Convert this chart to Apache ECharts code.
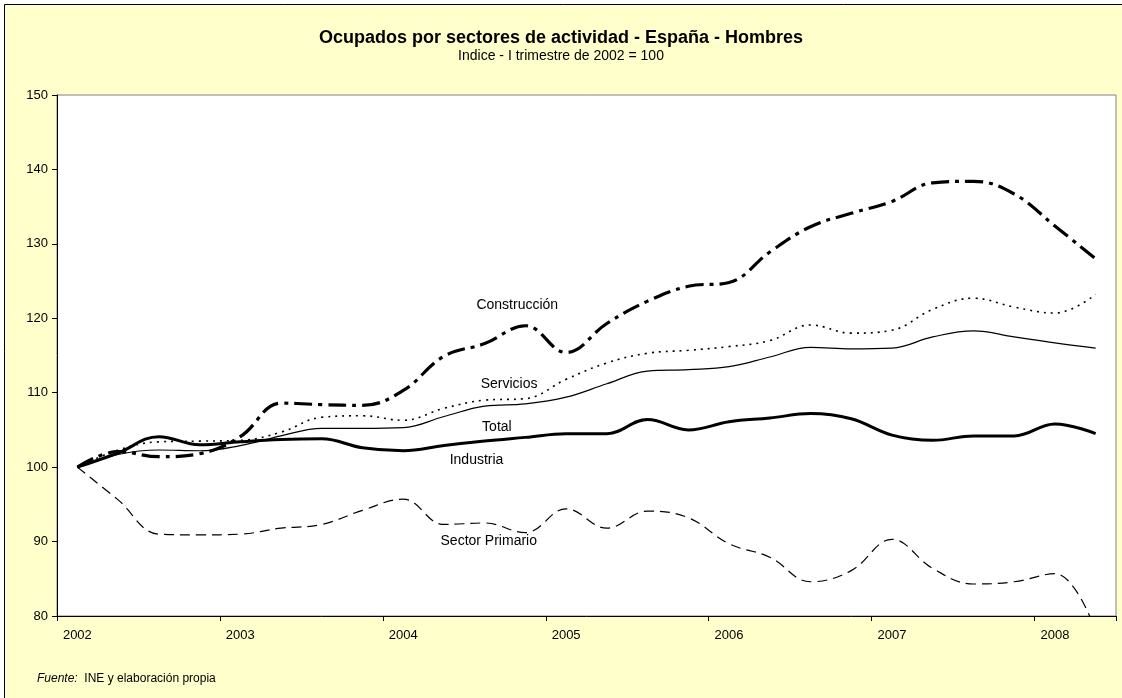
<!DOCTYPE html>
<html>
<head>
<meta charset="utf-8">
<script src="https://cdn.jsdelivr.net/npm/echarts@6/dist/echarts.min.js"></script>
<style>
  html, body { margin: 0; padding: 0; background: #fff; }
  #chart { width: 1122px; height: 698px; }
</style>
</head>
<body>
<div id="chart"></div>
<script>
// trimestres 2002-I .. 2008-II
const quarters = [
  '2002-I', '2002-II', '2002-III', '2002-IV',
  '2003-I', '2003-II', '2003-III', '2003-IV',
  '2004-I', '2004-II', '2004-III', '2004-IV',
  '2005-I', '2005-II', '2005-III', '2005-IV',
  '2006-I', '2006-II', '2006-III', '2006-IV',
  '2007-I', '2007-II', '2007-III', '2007-IV',
  '2008-I', '2008-II'
];

const construccion = [100, 102.1, 101.4, 101.8, 104.1, 108.6, 108.4, 108.3, 110.3, 114.9, 116.6, 119.0, 115.4,
  119.3, 122.3, 124.3, 124.8, 128.9, 132.3, 134.1, 135.7, 138.2, 138.4, 136.7, 132.4, 128.0];
const servicios = [100, 102.3, 103.4, 103.5, 103.6, 104.7, 106.7, 106.9, 106.3, 107.9, 109.0, 109.2, 111.8,
  114.0, 115.3, 115.7, 116.2, 117.0, 119.1, 118.0, 118.4, 121.2, 122.7, 121.5, 120.7, 123.2];
const total = [100, 101.7, 102.3, 102.2, 102.9, 104.2, 105.2, 105.2, 105.3, 106.8, 108.2, 108.5, 109.4,
  111.2, 112.9, 113.1, 113.5, 114.8, 116.1, 115.9, 116.0, 117.5, 118.3, 117.5, 116.7, 116.0];
const industria = [100, 101.9, 104.1, 103.0, 103.4, 103.7, 103.8, 102.6, 102.2, 102.9, 103.5, 104.0, 104.5,
  104.5, 106.4, 105.0, 106.1, 106.6, 107.2, 106.5, 104.3, 103.6, 104.2, 104.2, 105.8, 104.5];
const primario = [100, 95.6, 91.0, 90.9, 91.0, 91.8, 92.3, 94.2, 95.7, 92.3, 92.5, 91.2, 94.4,
  91.8, 94.1, 93.2, 89.7, 87.9, 84.6, 86.1, 90.3, 86.4, 84.3, 84.6, 85.7, 78.0];

const yTicks = { min: 80, max: 150, step: 10 };

// [texto, posicion en trimestres, valor]
const etiquetas = [
  ['Construcción', 10.8, 121.8],
  ['Servicios', 10.6, 111.1],
  ['Total', 10.3, 105.4],
  ['Industria', 9.8, 100.9],
  ['Sector Primario', 10.1, 90.0]
];

const FONT = '"Liberation Sans", Arial, sans-serif';

const chart = echarts.init(document.getElementById('chart'));

function serie(name, data, width, type) {
  return {
    name: name,
    type: 'line',
    data: data,
    smooth: 0.4,
    symbol: 'none',
    clip: true,
    lineStyle: { color: '#000', width: width, type: type },
    silent: true
  };
}

const fijos = [
  {
    type: 'rect', z: -10,
    shape: { x: 4.5, y: 4.5, width: 1130, height: 710 },
    style: { fill: '#ffffcc', stroke: '#000', lineWidth: 1 }
  },
  {
    type: 'text', left: 'center', top: 29,
    style: { text: 'Ocupados por sectores de actividad - España - Hombres', font: 'bold 18px ' + FONT, fill: '#000' }
  },
  {
    type: 'text', left: 'center', top: 49,
    style: { text: 'Indice - I trimestre de 2002 = 100', font: '14px ' + FONT, fill: '#000' }
  },
  {
    type: 'text', left: 37, top: 673,
    style: {
      text: '{i|Fuente:}  INE y elaboración propia',
      font: '12px ' + FONT, fill: '#000',
      rich: { i: { fontStyle: 'italic', fontSize: 12, fontFamily: FONT } }
    }
  }
];

chart.setOption({
  backgroundColor: 'transparent',
  animation: false,
  graphic: fijos,
  grid: {
    left: 57, right: 6, top: 95, bottom: 82,
    show: true, backgroundColor: '#fff', borderColor: '#808080', borderWidth: 1
  },
  xAxis: {
    type: 'category',
    data: quarters,
    boundaryGap: true,
    axisLine: { lineStyle: { color: '#000', width: 1 } },
    axisTick: { show: true, interval: 3, length: 5, lineStyle: { color: '#000' } },
    axisLabel: {
      interval: 3, color: '#000', fontSize: 13, fontFamily: FONT, margin: 13,
      formatter: v => v.slice(0, 4)
    },
    splitLine: { show: false }
  },
  yAxis: {
    type: 'value',
    min: yTicks.min, max: yTicks.max, interval: yTicks.step,
    axisLine: { show: true, lineStyle: { color: '#000', width: 1 } },
    axisTick: { show: true, length: 5, lineStyle: { color: '#000' } },
    axisLabel: { color: '#000', fontSize: 13, fontFamily: FONT, margin: 9 },
    splitLine: { show: false }
  },
  series: [
    serie('Sector Primario', primario, 1.2, [10, 6]),
    serie('Total', total, 1.2, 'solid'),
    serie('Servicios', servicios, 1.6, [2, 5]),
    serie('Industria', industria, 3, 'solid'),
    serie('Construcción', construccion, 3.2, [18, 6, 4, 6])
  ]
});

// etiquetas ancladas a coordenadas de datos
const x0 = chart.convertToPixel({ xAxisIndex: 0 }, 0);
const x1 = chart.convertToPixel({ xAxisIndex: 0 }, 1);
const textos = etiquetas.map(e => ({
  type: 'text',
  x: x0 + (x1 - x0) * e[1],
  y: chart.convertToPixel({ yAxisIndex: 0 }, e[2]),
  style: { text: e[0], font: '14px ' + FONT, fill: '#000', align: 'center', verticalAlign: 'middle' }
}));
chart.setOption({ graphic: fijos.concat(textos) }, { replaceMerge: ['graphic'] });
</script>
</body>
</html>
